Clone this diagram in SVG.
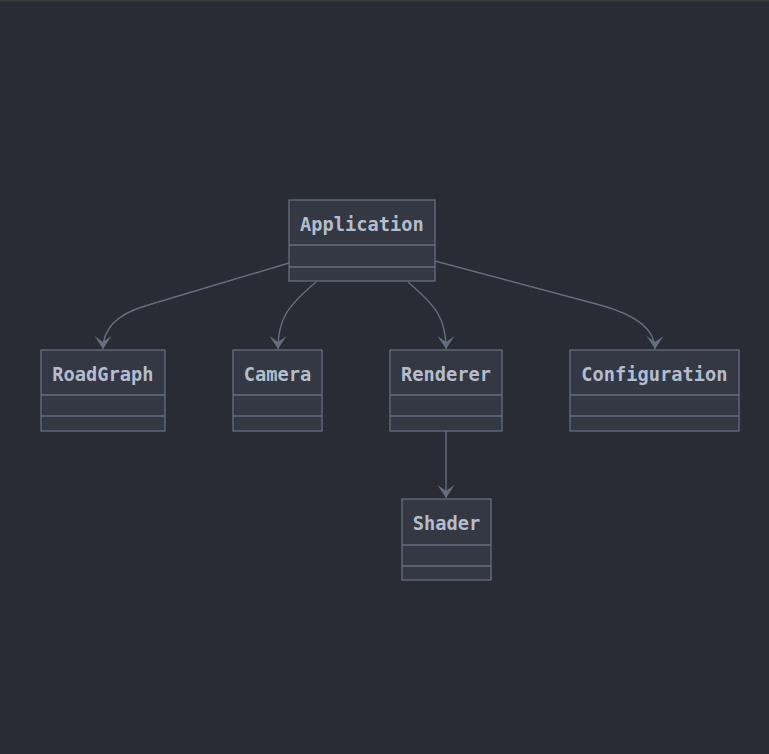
<svg xmlns="http://www.w3.org/2000/svg" width="769" height="754" viewBox="0 0 769 754">
<defs>
<style>
.box{fill:#343843;stroke:#666d80;stroke-width:1.3}
.div{stroke:#666d80;stroke-width:1.3}
.lbl{font-family:"DejaVu Sans Mono",monospace;font-weight:bold;font-size:18.7px;fill:#b3bdcd;text-anchor:middle}
.edge{fill:none;stroke:#666d80;stroke-width:1.4}
</style>
<marker id="arr" viewBox="-15 -10 16 20" markerWidth="16" markerHeight="20" refX="0" refY="0" orient="auto" markerUnits="userSpaceOnUse">
<path d="M0,0 L-13,-8.5 L-7,0 L-13,8.5 Z" fill="#666d80"/>
</marker>
</defs>
<rect width="769" height="754" fill="#292c34"/>
<rect width="769" height="1.5" fill="#3c3d39"/>
<g id="edges">
<path class="edge" d="M289,263 L145,306 Q103,318.6 103,349" marker-end="url(#arr)"/>
<path class="edge" d="M316,282 C288,306 278,318 278,349" marker-end="url(#arr)"/>
<path class="edge" d="M408,282 C436,306 446,318 446,349" marker-end="url(#arr)"/>
<path class="edge" d="M435,261 L600,305 Q655,320 655,349" marker-end="url(#arr)"/>
<path class="edge" d="M446,431 L446,498" marker-end="url(#arr)"/>
</g>
<g id="Application">
<rect class="box" x="289" y="200" width="146" height="81"/>
<line class="div" x1="289" y1="245" x2="435" y2="245"/>
<line class="div" x1="289" y1="267" x2="435" y2="267"/>
<text class="lbl" x="362" y="231">Application</text>
</g>
<g id="RoadGraph">
<rect class="box" x="41" y="350" width="124" height="81"/>
<line class="div" x1="41" y1="395" x2="165" y2="395"/>
<line class="div" x1="41" y1="416" x2="165" y2="416"/>
<text class="lbl" x="103" y="381">RoadGraph</text>
</g>
<g id="Camera">
<rect class="box" x="233" y="350" width="89" height="81"/>
<line class="div" x1="233" y1="395" x2="322" y2="395"/>
<line class="div" x1="233" y1="416" x2="322" y2="416"/>
<text class="lbl" x="277.5" y="381">Camera</text>
</g>
<g id="Renderer">
<rect class="box" x="390" y="350" width="112" height="81"/>
<line class="div" x1="390" y1="395" x2="502" y2="395"/>
<line class="div" x1="390" y1="416" x2="502" y2="416"/>
<text class="lbl" x="446" y="381">Renderer</text>
</g>
<g id="Configuration">
<rect class="box" x="570" y="350" width="169" height="81"/>
<line class="div" x1="570" y1="395" x2="739" y2="395"/>
<line class="div" x1="570" y1="416" x2="739" y2="416"/>
<text class="lbl" x="654.5" y="381">Configuration</text>
</g>
<g id="Shader">
<rect class="box" x="402" y="499" width="89" height="81"/>
<line class="div" x1="402" y1="545" x2="491" y2="545"/>
<line class="div" x1="402" y1="566" x2="491" y2="566"/>
<text class="lbl" x="446.5" y="530">Shader</text>
</g>
</svg>
